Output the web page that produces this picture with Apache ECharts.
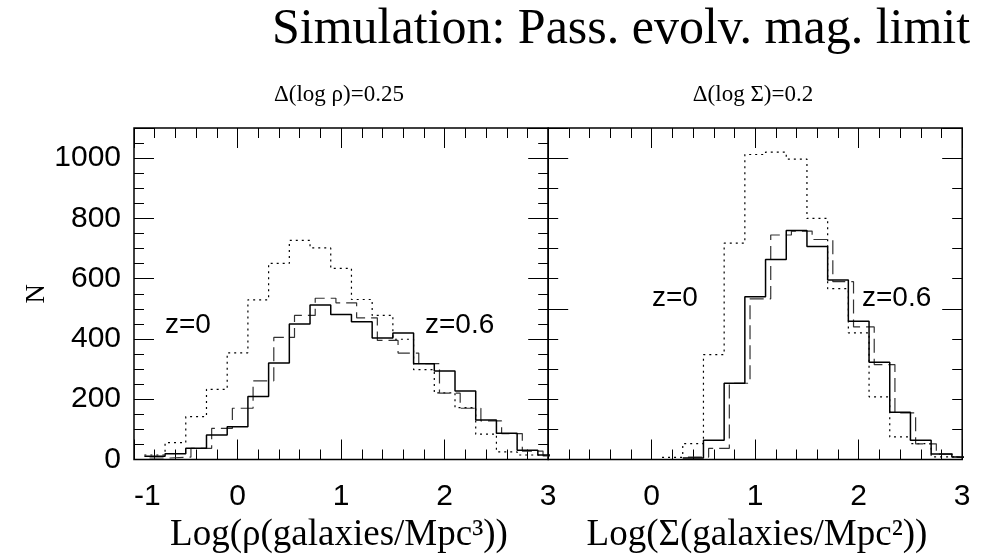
<!DOCTYPE html>
<html><head><meta charset="utf-8">
<script src="https://cdn.jsdelivr.net/npm/echarts@6/dist/echarts.min.js"></script>
<style>html,body{margin:0;padding:0;background:#fff}#c{width:983px;height:559px}</style>
</head><body><div id="c"></div>
<script>
// ---- data (bin centres and counts) ----
const binWidth = 0.2;
const leftCenters = [-0.8,-0.6,-0.4,-0.2,0.0,0.2,0.4,0.6,0.8,1.0,1.2,1.4,1.6,1.8,2.0,2.2,2.4,2.6,2.8,3.0];
const leftSolid   = [11,19,37,81,109,209,320,450,513,481,457,403,420,318,294,227,131,87,31,15];
const leftDotted  = [15,56,142,233,354,530,651,727,702,634,531,478,399,298,221,172,84,25,15,10];
const leftDashedCenters = [-0.75,-0.55,-0.35,-0.15,0.05,0.25,0.45,0.65,0.85,1.05,1.25,1.45,1.65,1.85,2.05,2.25,2.45,2.65,2.85,3.05];
const leftDashed  = [5,8,37,103,170,261,405,478,535,520,470,395,353,318,220,170,128,86,28,12];

const rightSolidCenters = [0.4,0.6,0.8,1.0,1.2,1.4,1.6,1.8,2.0,2.2,2.4,2.6,2.8,3.0];
const rightSolid  = [5,64,253,540,664,760,707,596,459,323,157,64,18,8];
const rightDottedCenters = [0.2,0.4,0.6,0.8,1.0,1.2,1.4,1.6,1.8,2.0,2.2,2.4,2.6,2.8,3.0];
const rightDotted = [7,53,348,718,1012,1020,997,800,567,420,208,75,53,9,5];
const rightDashedCenters = [0.45,0.65,0.85,1.05,1.25,1.45,1.65,1.85,2.05,2.25,2.45,2.65,2.85,3.05];
const rightDashed = [8,37,253,533,745,758,730,590,440,315,155,52,18,7];

const xTicksLeft  = [-1,0,1,2,3];
const xTicksRight = [0,1,2,3];
const yTickLabels = [0,200,400,600,800,1000];

// ---- helpers ----
function histPoints(centers, values) {
  const pts = centers.map((c, i) => [+(c - binWidth / 2).toFixed(3), values[i]]);
  pts.push([+(centers[centers.length - 1] + binWidth / 2).toFixed(3), values[values.length - 1]]);
  return pts;
}
const BLACK = '#000';
const tickStyle = { color: BLACK, width: 1 };
const sans = 'Liberation Sans, Arial, Helvetica, sans-serif';
const serif = 'Liberation Serif, Times New Roman, serif';

function xAxisPair(gi, labels) {
  const base = {
    type: 'value', gridIndex: gi, min: -1, max: 3, interval: 1,
    axisLine: { show: false, onZero: false },
    axisTick: { show: true, inside: true, length: 20, lineStyle: tickStyle },
    minorTick: { show: true, splitNumber: 5, length: 10, lineStyle: tickStyle },
    splitLine: { show: false }, minorSplitLine: { show: false }
  };
  return [
    Object.assign({}, base, { position: 'bottom', axisLabel: {
      show: true, margin: 22, color: BLACK, fontFamily: sans, fontSize: 30,
      alignMinLabel: 'left',
      formatter: v => labels.indexOf(v) >= 0 ? String(v) : ''
    } }),
    Object.assign({}, base, { position: 'top', axisLabel: { show: false } })
  ];
}
function yAxisSet(gi, major, minor, labels, name) {
  const mk = (pos, interval, len, showLab) => ({
    type: 'value', gridIndex: gi, position: pos, min: 0, max: 1100, interval: interval,
    axisLine: { show: false, onZero: false },
    axisTick: { show: true, inside: true, length: len, lineStyle: tickStyle },
    splitLine: { show: false },
    axisLabel: showLab ? {
      show: true, margin: 13, color: BLACK, fontFamily: sans, fontSize: 30,
      formatter: v => labels.indexOf(v) >= 0 ? String(v) : ''
    } : { show: false }
  });
  const a = mk('left', major, 20, !!labels);
  if (name) {
    a.name = name; a.nameLocation = 'middle'; a.nameGap = 80;
    a.nameTextStyle = { fontFamily: serif, fontSize: 27, color: BLACK };
  }
  return [a, mk('left', minor, 10, false), mk('right', major, 20, false), mk('right', minor, 10, false)];
}

const grids = [
  { left: 134, top: 128, width: 414.2, height: 331.5, show: true, borderColor: BLACK, borderWidth: 1.5 },
  { left: 548.2, top: 128, width: 414, height: 331.5, show: true, borderColor: BLACK, borderWidth: 1.5 }
];

const xAxes = [].concat(xAxisPair(0, xTicksLeft), xAxisPair(1, xTicksRight));
const yAxes = [].concat(yAxisSet(0, 200, 50, yTickLabels, 'N'), yAxisSet(1, 500, 100, null, null));

function histSeries(pts, xi, yi, style) {
  return {
    type: 'line', xAxisIndex: xi, yAxisIndex: yi, data: pts, step: 'end',
    symbol: 'none', clip: true, silent: true, animation: false,
    lineStyle: style
  };
}
const solidStyle  = { color: BLACK, width: 1.5, type: 'solid' };
const dashedStyle = { color: '#333', width: 1.2, type: [14, 6] };
const dottedStyle = { color: BLACK, width: 1.2, type: [2, 4] };

const series = [
  histSeries(histPoints(leftCenters, leftDotted), 0, 0, dottedStyle),
  histSeries(histPoints(leftDashedCenters, leftDashed), 0, 0, dashedStyle),
  histSeries(histPoints(leftCenters, leftSolid), 0, 0, solidStyle),
  histSeries(histPoints(rightDottedCenters, rightDotted), 2, 4, dottedStyle),
  histSeries(histPoints(rightDashedCenters, rightDashed), 2, 4, dashedStyle),
  histSeries(histPoints(rightSolidCenters, rightSolid), 2, 4, solidStyle)
];

function txt(x, y, s, font, size, align) {
  return { type: 'text', x: x, y: y, silent: true,
    style: { text: s, fontFamily: font, fontSize: size, fill: BLACK, align: align || 'left', verticalAlign: 'middle' } };
}
const graphics = [
  txt(272, 30, 'Simulation: Pass. evolv. mag. limit', serif, 50, 'left'),
  txt(339, 95, 'Δ(log ρ)=0.25', serif, 23, 'center'),
  txt(753, 95, 'Δ(log Σ)=0.2', serif, 23, 'center'),
  txt(339, 535, 'Log(ρ(galaxies/Mpc³))', serif, 37, 'center'),
  txt(757, 535, 'Log(Σ(galaxies/Mpc²))', serif, 37, 'center'),
  txt(165, 325, 'z=0', sans, 28, 'left'),
  txt(425, 325, 'z=0.6', sans, 28, 'left'),
  txt(652, 298, 'z=0', sans, 28, 'left'),
  txt(862, 298, 'z=0.6', sans, 28, 'left')
];

const chart = echarts.init(document.getElementById('c'), null, { renderer: 'canvas' });
chart.setOption({
  animation: false,
  backgroundColor: '#fff',
  grid: grids,
  xAxis: xAxes,
  yAxis: yAxes,
  series: series,
  graphic: graphics
});
</script></body></html>
